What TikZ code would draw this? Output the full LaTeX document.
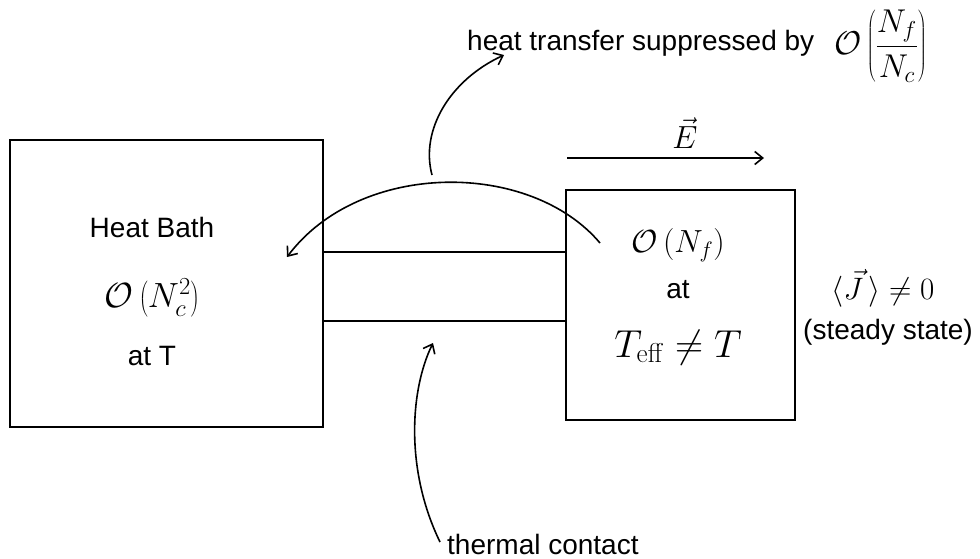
\RequirePackage{fix-cm}
\documentclass[tikz,border=0pt]{standalone}
\usepackage[no-math]{fontspec}
\setmainfont{Liberation Sans}
\usetikzlibrary{arrows.meta}
\begin{document}
\begin{tikzpicture}[x=1pt,y=-1pt,
  box/.style={draw, line width=1.8pt},
  conn/.style={line width=1.8pt},
  arr/.style={line width=1.6pt, -{Straight Barb[length=8pt,width=13pt,line width=1.6pt]}},
  lbl/.style={inner sep=0pt, font=\fontsize{28}{32}\selectfont},
  mth/.style={inner sep=0pt, font=\fontsize{32}{36}\selectfont}]
\useasboundingbox (0,0) rectangle (980,558);
\draw[box] (10,140) rectangle (323,427);
\draw[box] (566,190) rectangle (795,420);
\coordinate (lt) at (323,252); \coordinate (rt) at (566,252);
\coordinate (lb) at (323,321); \coordinate (rb) at (566,321);
\draw[conn] (lt) -- (rt);
\draw[conn] (lb) -- (rb);
\node[lbl, anchor=base] (hb) at (152,237) {Heat Bath};
\node[mth, font=\fontsize{35}{38}\selectfont] (onc) at (152,298) {$\mathcal{O}\left(N_c^2\right)$};
\node[lbl, anchor=base] (atT) at (152,365) {at T};
\node[mth] (onf) at (678,245) {$\mathcal{O}\left(N_f\right)$};
\node[lbl, anchor=base] (at) at (678,298) {at};
\node[mth, anchor=base, font=\fontsize{39}{42}\selectfont] (teff) at (678,357) {$T_{\mathrm{eff}}\neq T$};
\node[mth, font=\fontsize{31}{34}\selectfont] (J) at (883,288) {$\langle\vec{J}\,\rangle\neq 0$};
\node[lbl, anchor=base] (ss) at (888,339) {(steady state)};
\coordinate (es) at (567,158); \coordinate (ee) at (764,158);
\draw[arr] (es) -- (ee);
\node[mth] (E) at (685,133) {$\vec{E}$};
\node[lbl, anchor=base west] (ht) at (467,50) {heat transfer suppressed by};
\node[mth, anchor=west, font=\fontsize{33}{36}\selectfont] (frac) at (834,46) {$\displaystyle\mathcal{O}\left(\frac{N_f}{N_c}\right)$};
\node[lbl, anchor=base west] (tc) at (447,554) {thermal contact};
\coordinate (a1) at (600,243);
\coordinate (a2) at (287,257);
\draw[arr] (a1) .. controls (530,160) and (360,160) .. (a2);
\coordinate (u1) at (432,175);
\coordinate (u2) at (504,55);
\draw[arr] (u1) .. controls (420,130) and (450,80) .. (u2);
\coordinate (t1) at (440,542);
\coordinate (t2) at (433,343);
\draw[arr] (t1) .. controls (405,470) and (410,390) .. (t2);
\end{tikzpicture}
\end{document}
